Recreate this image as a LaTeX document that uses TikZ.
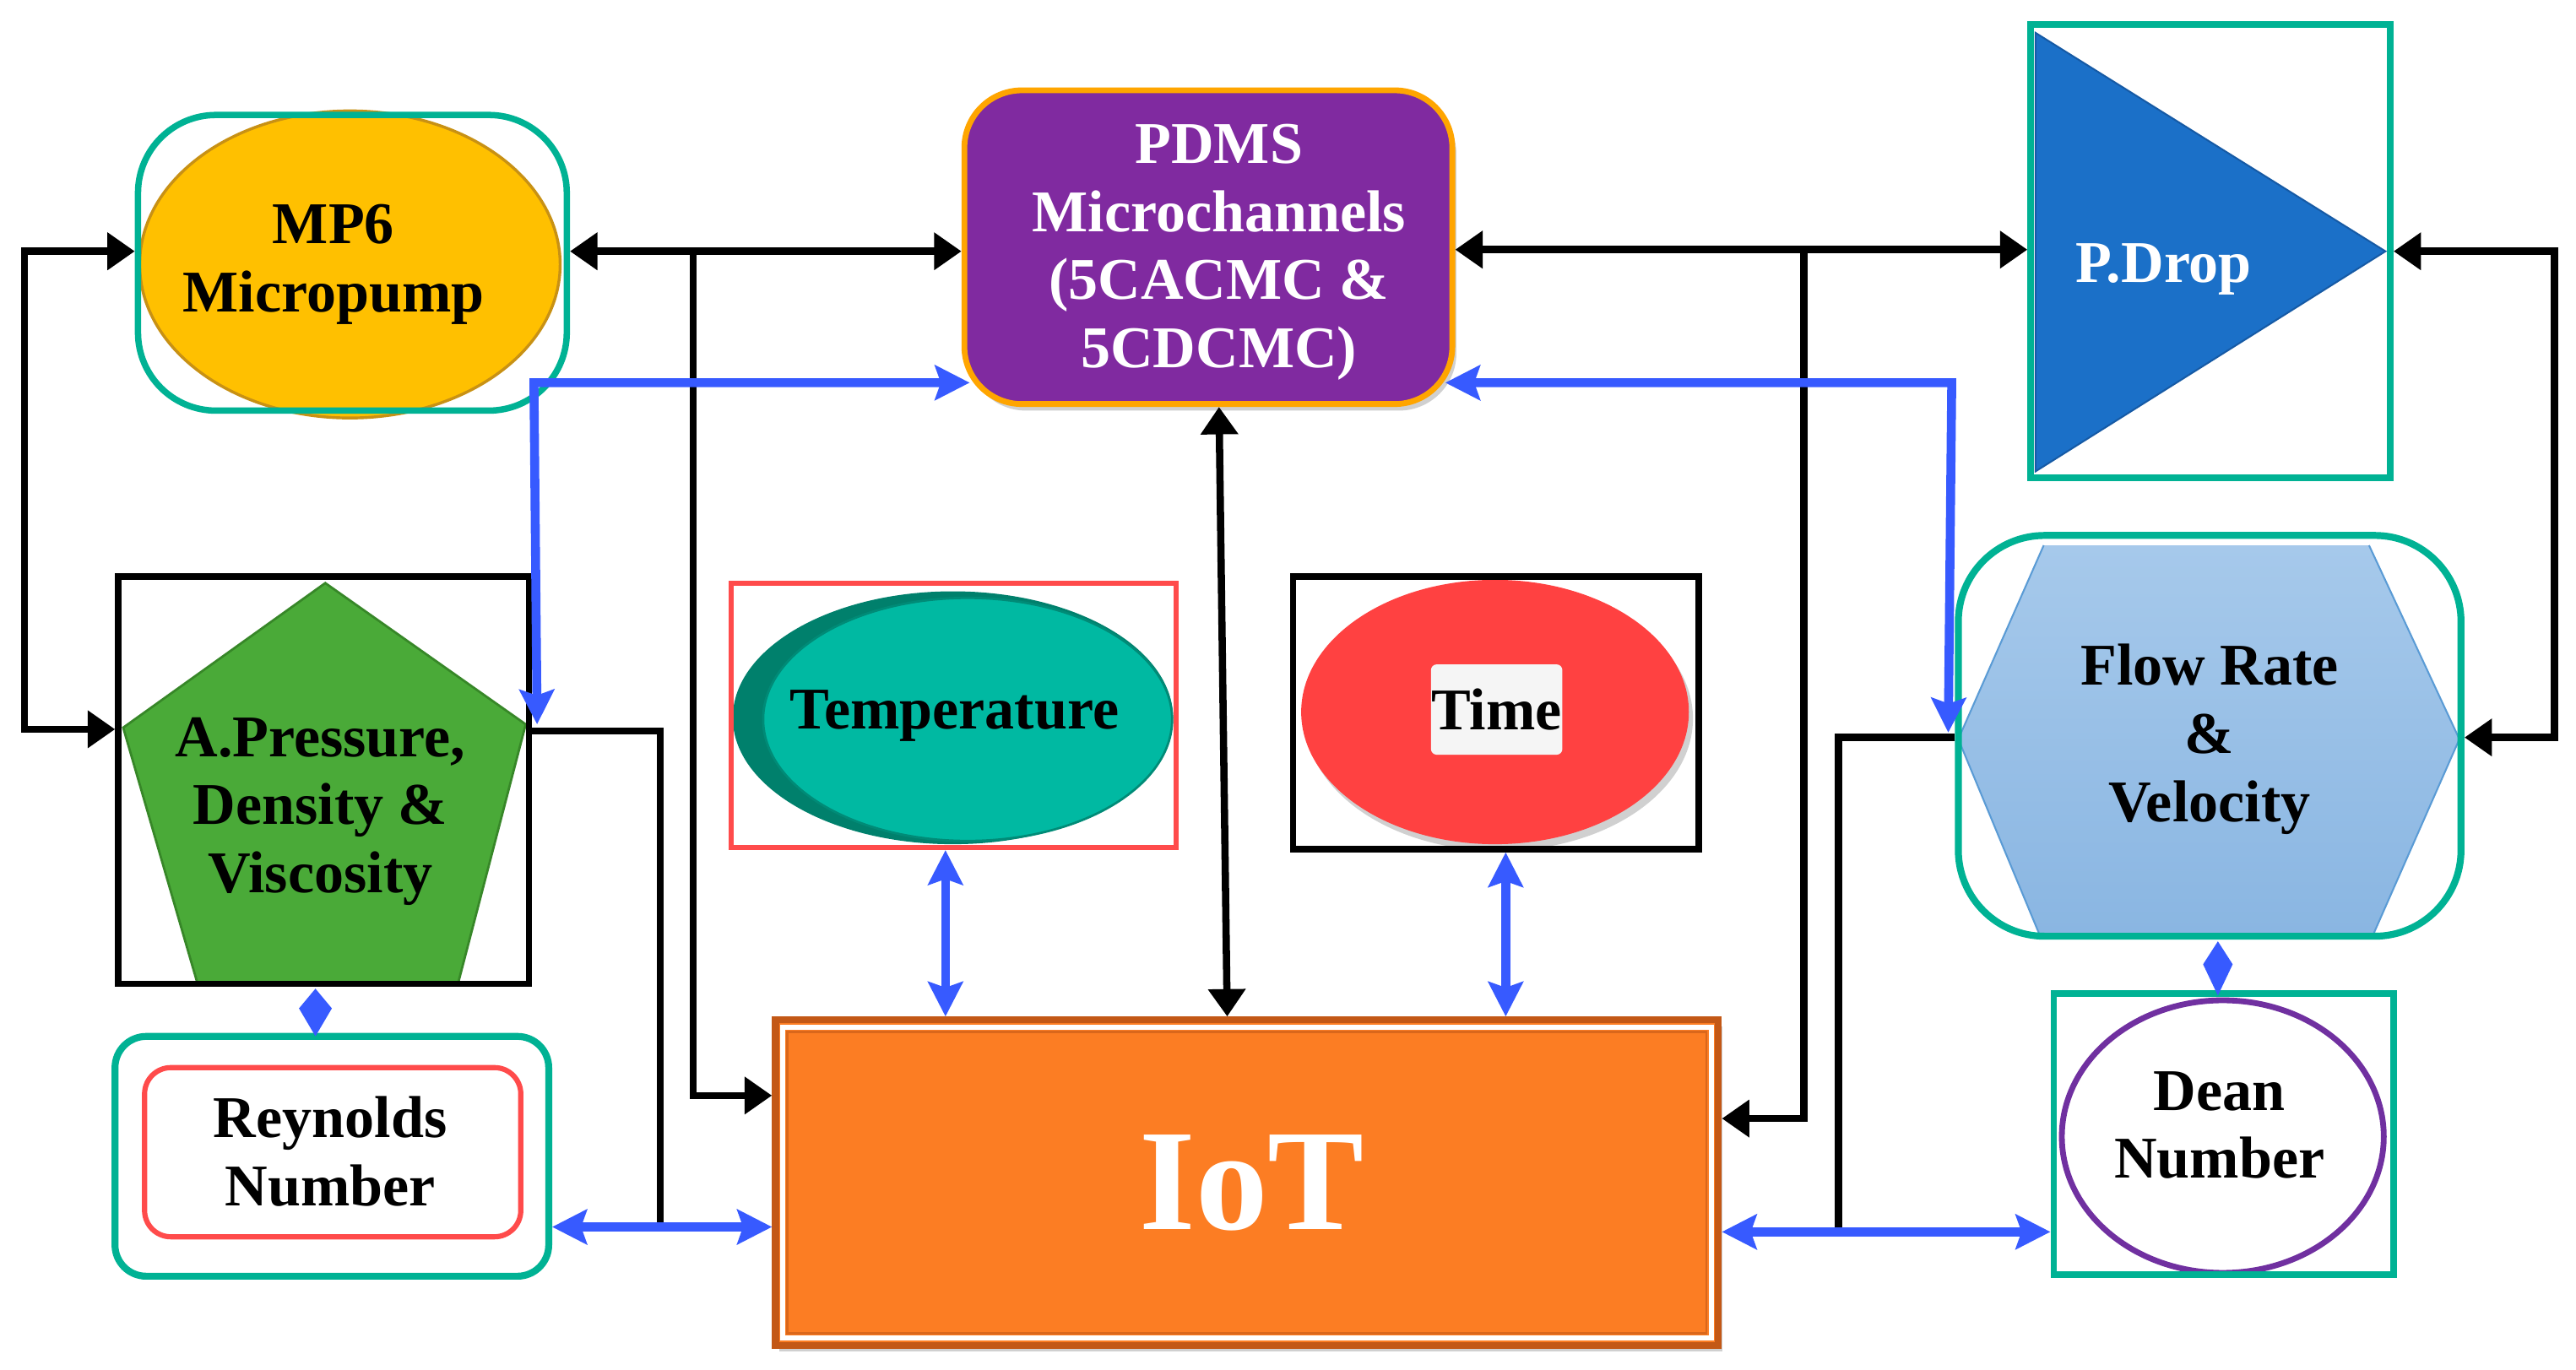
\documentclass[tikz,border=0pt]{standalone}
\usepackage{fontspec}
\setmainfont{Liberation Serif}
\usetikzlibrary{arrows.meta,shapes.geometric,fit,calc,shadows}

\definecolor{tealc}{RGB}{0,178,148}
\definecolor{yel}{RGB}{255,192,0}
\definecolor{yelb}{RGB}{200,145,20}
\definecolor{purp}{RGB}{128,42,160}
\definecolor{orng}{RGB}{255,165,0}
\definecolor{pblue}{RGB}{27,112,200}
\definecolor{pblueb}{RGB}{22,90,165}
\definecolor{grn}{RGB}{74,170,56}
\definecolor{grnb}{RGB}{55,135,40}
\definecolor{tmp}{RGB}{0,185,162}
\definecolor{tmpd}{RGB}{0,128,108}
\definecolor{redb}{RGB}{255,75,75}
\definecolor{timer}{RGB}{255,65,65}
\definecolor{flowt}{RGB}{166,201,235}
\definecolor{flowb}{RGB}{138,182,226}
\definecolor{flowe}{RGB}{90,155,213}
\definecolor{iotf}{RGB}{252,125,35}
\definecolor{iotb}{RGB}{195,88,22}
\definecolor{deanp}{RGB}{112,48,160}
\definecolor{arrblue}{RGB}{55,90,255}

\begin{document}
\begin{tikzpicture}[x=0.02cm,y=-0.02cm,
  txt/.style={font=\fontsize{20.5}{23.6}\selectfont\bfseries, align=center, inner sep=0pt},
  frame/.style={inner sep=0pt, line width=2.2pt},
  blkc/.style={draw=black, line width=2.5pt, >={Triangle[length=9.5pt,width=12.5pt]}},
  bluc/.style={draw=arrblue, line width=3.1pt, >={Stealth[length=12pt,width=12pt,inset=2pt]}},
  sh/.style={drop shadow={shadow xshift=0.05cm, shadow yshift=-0.08cm, opacity=0.3, fill=black!60}}]

\path[use as bounding box, fill=white] (0,0) rectangle (1568,834);

% ---------- MP6 Micropump ----------
\node[ellipse, fill=yel, draw=yelb, line width=1pt, minimum width=5.12cm, minimum height=3.74cm, inner sep=0pt] (mp6e) at (213,161) {};
\node[frame, draw=tealc, rounded corners=0.95cm, fit={(84,70)(345,250)}] (mp6) {};
\node[txt] (mp6t) at (203,161) {MP6\\Micropump};

% ---------- PDMS ----------
\node[frame, sh, fill=purp, draw=orng, line width=2pt, rounded corners=0.7cm, fit={(587,55)(884,246)}] (pdms) {};
\node[txt, text=white] (pdmst) at (742,153.5) {PDMS\\Microchannels\\(5CACMC \&\\5CDCMC)};

% ---------- P.Drop ----------
\fill[pblue, draw=pblueb, line width=0.6pt] (1239,20) -- (1452,153) -- (1239,287) -- cycle;
\node[frame, draw=tealc, fit={(1236,15)(1455,291)}] (pdrop) {};
\node[txt, text=white] (pdropt) at (1317,164) {P.Drop};

% ---------- A.Pressure pentagon ----------
\fill[grn, draw=grnb, line width=0.8pt] (198,355) -- (320,441) -- (279,598) -- (120,598) -- (75,443) -- cycle;
\node[frame, draw=black, fit={(72,351)(322,599)}] (pent) {};
\node[txt] (pentt) at (195,494) {A.Pressure,\\Density \&\\Viscosity};

% ---------- Temperature ----------
\node[ellipse, fill=tmpd, minimum width=5.36cm, minimum height=3.08cm, inner sep=0pt] (tempd) at (580,437) {};
\node[ellipse, fill=tmp, draw=tmpd!80!tmp, line width=0.8pt, minimum width=4.98cm, minimum height=2.96cm, inner sep=0pt] (tempe) at (589,438) {};
\node[frame, draw=redb, line width=1.8pt, fit={(445,355)(716,516)}] (temp) {};
\node[txt] (tempt) at (581,436) {Temperature};

% ---------- Time ----------
\node[ellipse, sh, fill=timer, minimum width=4.72cm, minimum height=3.22cm, inner sep=0pt] (timee) at (910,433.5) {};
\node[frame, draw=black, fit={(787,351)(1034,517)}] (time) {};
\node[txt, fill=white!96!black, rounded corners=2pt, minimum width=1.6cm, minimum height=1.1cm] (timet) at (911,432) {Time};

% ---------- Flow Rate & Velocity ----------
\fill[top color=flowt, bottom color=flowb] (1244,332) -- (1442,332) -- (1497,450) -- (1445,568) -- (1241,568) -- (1192,450) -- cycle;
\draw[flowe, line width=0.6pt] (1244,332) -- (1192,450) -- (1241,568);
\draw[flowe, line width=0.6pt] (1442,332) -- (1497,450) -- (1445,568);
\node[frame, draw=tealc, line width=2.4pt, rounded corners=1.05cm, fit={(1192,326)(1498,570)}] (flow) {};
\node[txt] (flowt) at (1345,450) {Flow Rate\\\&\\Velocity};

% ---------- Reynolds Number ----------
\node[frame, draw=tealc, line width=2.4pt, rounded corners=0.38cm, fit={(70,631)(334,777)}] (reyn) {};
\node[frame, draw=redb, line width=1.8pt, rounded corners=0.32cm, fit={(88,650)(317,753)}] (reyni) {};
\node[txt] (reynt) at (201,701) {Reynolds\\Number};

% ---------- IoT ----------
\node[frame, sh, fill=iotf, draw=iotb, line width=2.4pt, fit={(472,621)(1046,819)}] (iot) {};
\draw[white, line width=1.6pt] ($(iot.north west)+(6.5,6.5)$) rectangle ($(iot.south east)+(-6.5,-6.5)$);
\draw[iotb!60!iotf, line width=0.8pt] ($(iot.north west)+(9.5,9.5)$) rectangle ($(iot.south east)+(-9.5,-9.5)$);
\node[font=\fontsize{50}{60}\selectfont\bfseries, text=white, anchor=base, inner sep=0pt] (iott) at (762,748.5) {IoT};

% ---------- Dean Number ----------
\node[ellipse, fill=white, draw=deanp, line width=2pt, minimum width=3.92cm, minimum height=3.32cm, inner sep=0pt] (deane) at (1353,692) {};
\node[frame, draw=tealc, fit={(1250,605)(1457,776)}] (dean) {};
\node[txt] (deant) at (1351,685) {Dean\\Number};

% ---------- helper coordinates ----------
\coordinate (tA) at ($(temp.south)+(-5,0)$);
\coordinate (tB) at ($(time.south)+(6,0)$);

% ---------- black connectors ----------
\draw[blkc,<->] (mp6.west |- 0,153) -- (15,153) -- (15,444) -- (pent.west |- 0,444);
\draw[blkc,<->] (mp6.east |- 0,153) -- (pdms.west |- 0,153);
\draw[blkc,->] (422,153) -- (422,667) -- (iot.west |- 0,667);
\draw[blkc] (pent.east |- 0,445) -- (402,445) -- (402,747);
\draw[blkc,<->] (pdms.east |- 0,152) -- (pdrop.west |- 0,152);
\draw[blkc,->] (1098,152) -- (1098,681) -- (iot.east |- 0,681);
\draw[blkc,<->] (pdrop.east |- 0,153) -- (1555,153) -- (1555,449) -- (flow.east |- 0,449);
\draw[blkc] (flow.west |- 0,449) -- (1119,449) -- (1119,750);
\draw[blkc,<->] ($(pdms.south)+(6.5,0)$) -- ($(iot.north)+(-12,0)$);

% ---------- blue connectors ----------
\draw[bluc,<->] ($(pent.east)+(3,-34)$) -- (325,233) -- ($(pdms.west)+(5,82.5)$);
\draw[bluc,<->] ($(pdms.east)+(-6,82.5)$) -- (1188,233) -- ($(flow.west)+(-4,-2)$);
\draw[bluc,<->] (tA) -- (tA |- iot.north);
\draw[bluc,<->] (tB) -- (tB |- iot.north);
\draw[bluc,<->] (reyn.east |- 0,747) -- (iot.west |- 0,747);
\draw[bluc,<->] (iot.east |- 0,750) -- (dean.west |- 0,750);

% ---------- blue diamond links ----------
\fill[arrblue] ($(pent.south)+(-5,1)$) -- ++(10,12) -- ++(-10,17) -- ++(-10,-17) -- cycle;
\fill[arrblue] ($(flow.south)+(5,1)$) -- ++(9,14) -- ++(-9,19) -- ++(-9,-19) -- cycle;

\end{tikzpicture}
\end{document}
